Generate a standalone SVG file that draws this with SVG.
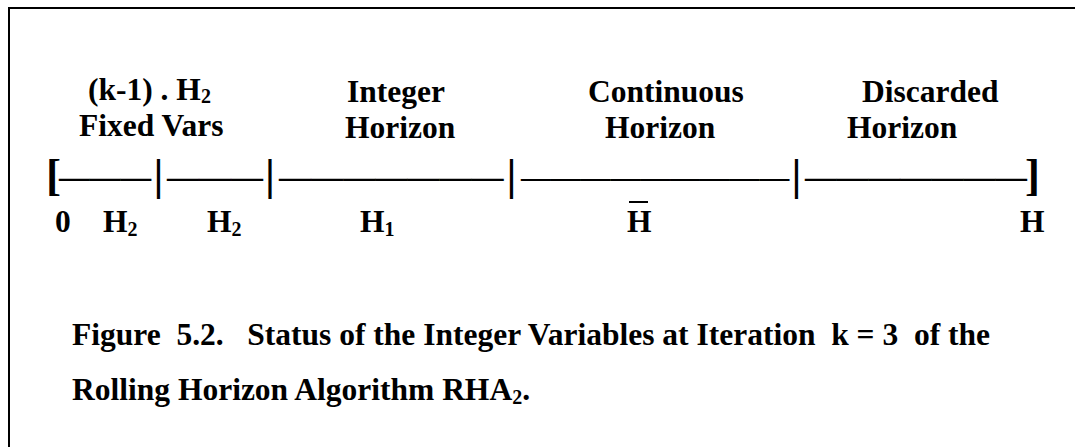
<svg xmlns="http://www.w3.org/2000/svg" width="1075" height="447" viewBox="0 0 1075 447">
<style>
.t{font-family:"Liberation Serif","Times New Roman",serif;font-weight:bold;font-size:31.5px;fill:#000;white-space:pre}
.sub{font-size:20px}
.ax{font-family:"Liberation Serif","Times New Roman",serif;font-weight:bold;fill:#000}
.b{font-size:45px}
</style>
<rect width="1075" height="447" fill="#fff"/>
<path d="M9,447 V8 H1075" fill="none" stroke="#000" stroke-width="2"/>
<g id="label-fixed">
<text class="t"><tspan x="88" y="100">(k-1) . H</tspan><tspan class="sub" dy="3">2</tspan><tspan x="79" y="136">Fixed Vars</tspan></text>
</g>
<g id="label-integer">
<text class="t"><tspan x="347" y="102">Integer</tspan><tspan x="345" y="138">Horizon</tspan></text>
</g>
<g id="label-continuous">
<text class="t"><tspan x="588" y="102">Continuous</tspan><tspan x="605" y="138">Horizon</tspan></text>
</g>
<g id="label-discarded">
<text class="t"><tspan x="862" y="102">Discarded</tspan><tspan x="847" y="138">Horizon</tspan></text>
</g>
<g id="axis">
<text class="ax"><tspan class="b" x="46" y="190">[</tspan><tspan x="59" y="187" font-size="30.7">———</tspan><tspan class="b" x="153.5" y="190">|</tspan><tspan x="167" y="187" font-size="32">———</tspan><tspan class="b" x="265" y="190">|</tspan><tspan x="279" y="187" font-size="32.1">———————</tspan><tspan class="b" x="506.5" y="190">|</tspan><tspan x="521" y="187" font-size="29.8">—————————</tspan><tspan class="b" x="791.5" y="190">|</tspan><tspan x="805" y="187" font-size="31.7">———————</tspan><tspan class="b" x="1025" y="190">]</tspan></text>
</g>
<g id="labels-bottom">
<text class="t" x="55" y="232">0</text>
<text class="t" x="103" y="232">H<tspan class="sub" dy="4">2</tspan></text>
<text class="t" x="207" y="232">H<tspan class="sub" dy="4">2</tspan></text>
<text class="t" x="360" y="232">H<tspan class="sub" dy="4">1</tspan></text>
<text class="t" x="627" y="232">H</text>
<line x1="629" y1="202" x2="648" y2="202" stroke="#000" stroke-width="2"/>
<text class="t" x="1020" y="232">H</text>
</g>
<g id="caption">
<text class="t" x="72" y="345">Figure  5.2.   Status of the Integer Variables at Iteration  k = 3  of the</text>
<text class="t" x="72" y="400">Rolling Horizon Algorithm RHA<tspan class="sub" dy="4">2</tspan><tspan dy="-4">.</tspan></text>
</g>
</svg>
